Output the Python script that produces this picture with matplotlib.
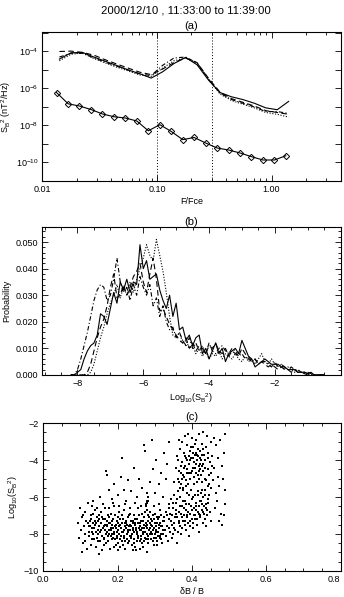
import numpy as np
import matplotlib
matplotlib.use('Agg')
import matplotlib.pyplot as plt
from matplotlib.ticker import FixedLocator, MultipleLocator, NullFormatter

plt.rcParams['font.family'] = ['Liberation Sans', 'DejaVu Sans']
plt.rcParams['mathtext.fontset'] = 'custom'
plt.rcParams['mathtext.rm'] = 'Liberation Sans'
plt.rcParams['mathtext.it'] = 'Liberation Sans'

# ---- panel (a): spectra vs F/Fce (log10 of power) ----
freq_upper = [0.0141, 0.0178, 0.0224, 0.0282, 0.0355, 0.0447, 0.0562, 0.0708, 0.0891, 0.112,
              0.141, 0.178, 0.224, 0.282, 0.355, 0.447, 0.562, 0.708, 0.891, 1.12, 1.41]
spec_solid = [-4.41, -4.07, -4.05, -4.30, -4.53, -4.76, -5.00, -5.20, -5.44, -5.10,
              -4.65, -4.32, -4.72, -5.55, -6.22, -6.45, -6.60, -6.80, -7.05, -7.15, -6.70]
spec_dashed = [-4.00, -3.98, -4.05, -4.20, -4.45, -4.68, -4.90, -5.12, -5.25, -4.95,
               -4.60, -4.35, -4.60, -5.45, -6.20, -6.55, -6.75, -6.95, -7.20, -7.30, -7.40]
spec_dashdot = [-4.30, -4.10, -4.10, -4.35, -4.58, -4.80, -5.00, -5.22, -5.30, -4.75,
                -4.35, -4.30, -4.62, -5.50, -6.25, -6.60, -6.80, -7.00, -7.25, -7.25, -7.35]
spec_dotted = [-4.50, -4.15, -4.08, -4.38, -4.62, -4.85, -5.05, -5.27, -5.35, -4.90,
               -4.50, -4.35, -4.65, -5.50, -6.30, -6.65, -6.85, -7.05, -7.30, -7.40, -7.55]
freq_noise = [0.0133, 0.0168, 0.0211, 0.0266, 0.0335, 0.0422, 0.0531, 0.0668, 0.0841, 0.106,
              0.133, 0.168, 0.211, 0.266, 0.335, 0.422, 0.531, 0.668, 0.841, 1.06, 1.33]
spec_noise = [-6.22, -6.83, -6.95, -7.14, -7.38, -7.53, -7.60, -7.76, -8.29, -7.96,
              -8.32, -8.77, -8.65, -8.95, -9.22, -9.33, -9.49, -9.69, -9.87, -9.87, -9.64]
band_edges = [0.1, 0.3]

# ---- panel (b): probability of log10(S_B^2) ----
logs_bins = [round(-8.2 + 0.1 * i, 1) for i in range(78)]
prob_solid = [0, 0, 0.001, 0.002, 0.006, 0.009, 0.011, 0.012, 0.015, 0.023,
              0.022, 0.019, 0.025, 0.031, 0.027, 0.035, 0.032, 0.036, 0.031, 0.035,
              0.034, 0.049, 0.040, 0.043, 0.036, 0.037, 0.038, 0.032, 0.028, 0.025,
              0.030, 0.022, 0.027, 0.017, 0.018, 0.013, 0.015, 0.011, 0.014, 0.015,
              0.008, 0.010, 0.006, 0.009, 0.012, 0.008, 0.010, 0.005, 0.008, 0.009,
              0.010, 0.008, 0.013, 0.010, 0.007, 0.006, 0.003, 0.004, 0.005, 0.006,
              0.005, 0.004, 0.004, 0.004, 0.003, 0.003, 0.002, 0.002, 0.002, 0.001,
              0.001, 0.001, 0.0005, 0.001, 0, 0, 0, 0]
prob_dashed = [0, 0, 0, 0, 0, 0.001, 0.004, 0.009, 0.014, 0.018,
               0.021, 0.026, 0.033, 0.038, 0.029, 0.030, 0.034, 0.030, 0.033, 0.037,
               0.039, 0.042, 0.035, 0.031, 0.038, 0.044, 0.036, 0.024, 0.025, 0.022,
               0.019, 0.017, 0.015, 0.013, 0.012, 0.014, 0.010, 0.012, 0.009, 0.011,
               0.010, 0.008, 0.011, 0.010, 0.012, 0.009, 0.008, 0.010, 0.007, 0.009,
               0.008, 0.007, 0.010, 0.008, 0.006, 0.005, 0.006, 0.004, 0.005, 0.004,
               0.003, 0.004, 0.003, 0.002, 0.003, 0.002, 0.002, 0.001, 0.002, 0.001,
               0.001, 0.0005, 0, 0, 0, 0, 0, 0]
prob_dashdot = [0, 0, 0.002, 0.006, 0.011, 0.016, 0.022, 0.028, 0.032, 0.034,
                0.033, 0.028, 0.030, 0.036, 0.044, 0.035, 0.031, 0.033, 0.028, 0.034,
                0.030, 0.037, 0.033, 0.030, 0.034, 0.026, 0.029, 0.022, 0.026, 0.020,
                0.017, 0.018, 0.014, 0.016, 0.013, 0.011, 0.014, 0.010, 0.012, 0.009,
                0.011, 0.008, 0.012, 0.009, 0.008, 0.010, 0.011, 0.009, 0.008, 0.010,
                0.009, 0.007, 0.008, 0.006, 0.007, 0.005, 0.006, 0.004, 0.005, 0.005,
                0.004, 0.003, 0.005, 0.003, 0.004, 0.003, 0.002, 0.003, 0.002, 0.002,
                0.001, 0.001, 0.001, 0.0005, 0, 0, 0, 0]
prob_dotted = [0, 0, 0, 0, 0, 0, 0.001, 0.004, 0.009, 0.014,
               0.018, 0.023, 0.027, 0.030, 0.034, 0.029, 0.033, 0.030, 0.035, 0.031,
               0.036, 0.040, 0.044, 0.049, 0.045, 0.043, 0.051, 0.045, 0.039, 0.031,
               0.022, 0.015, 0.014, 0.016, 0.012, 0.013, 0.010, 0.011, 0.008, 0.010,
               0.007, 0.009, 0.006, 0.008, 0.007, 0.009, 0.006, 0.008, 0.007, 0.006,
               0.008, 0.006, 0.005, 0.007, 0.005, 0.006, 0.004, 0.006, 0.008, 0.005,
               0.004, 0.006, 0.004, 0.003, 0.004, 0.002, 0.003, 0.002, 0.001, 0.002,
               0.001, 0.001, 0.0005, 0, 0, 0, 0, 0]

# ---- panel (c): scatter of dB/B vs log10(S_B^2), points read region by region ----
low_cloud = [
    (0.121, -7.4), (0.124, -8.1), (0.127, -7.0), (0.129, -8.6), (0.132, -7.7), (0.134, -6.9), (0.136, -8.3),
    (0.138, -7.3), (0.141, -7.9), (0.143, -8.7), (0.145, -7.1), (0.147, -8.0), (0.149, -7.6), (0.152, -8.4),
    (0.154, -6.8), (0.156, -7.8), (0.158, -8.9), (0.161, -7.2), (0.163, -8.2), (0.165, -7.5), (0.167, -6.6),
    (0.169, -8.5), (0.171, -7.9), (0.173, -7.0), (0.175, -8.1), (0.177, -7.4), (0.179, -8.8), (0.181, -6.9),
    (0.183, -7.7), (0.185, -8.3), (0.187, -7.2), (0.189, -8.0), (0.191, -6.5), (0.193, -7.6), (0.195, -8.6),
    (0.197, -7.3), (0.199, -8.2), (0.201, -7.8), (0.203, -6.8), (0.205, -8.7), (0.207, -7.5), (0.209, -8.1),
    (0.211, -7.0), (0.213, -8.4), (0.215, -7.9), (0.217, -6.7), (0.219, -7.4), (0.221, -8.8), (0.223, -7.7),
    (0.225, -8.0), (0.227, -7.1), (0.229, -8.5), (0.231, -7.6), (0.233, -6.9), (0.235, -8.2), (0.237, -7.3),
    (0.239, -8.6), (0.241, -7.8), (0.243, -7.0), (0.245, -8.3), (0.247, -7.5), (0.249, -8.9), (0.251, -7.2),
    (0.253, -8.0), (0.255, -6.6), (0.257, -7.7), (0.259, -8.4), (0.261, -7.4), (0.263, -8.1), (0.265, -6.9),
    (0.267, -7.9), (0.269, -8.7), (0.271, -7.1), (0.273, -8.2), (0.275, -7.6), (0.277, -6.4), (0.279, -8.0),
    (0.281, -7.3), (0.283, -8.5), (0.285, -7.8), (0.287, -6.8), (0.289, -8.3), (0.291, -7.5), (0.293, -8.0),
    (0.295, -7.0), (0.297, -8.6), (0.299, -7.7), (0.301, -6.9), (0.303, -8.2), (0.305, -7.4), (0.307, -8.4),
    (0.309, -7.9), (0.311, -7.1), (0.313, -8.1), (0.315, -6.7), (0.317, -7.6), (0.319, -8.5), (0.321, -7.3),
    (0.323, -8.0),
    (0.122, -7.9), (0.126, -7.6), (0.131, -8.3), (0.135, -7.4), (0.139, -6.7), (0.144, -8.2), (0.148, -7.3),
    (0.153, -7.9), (0.157, -7.1), (0.162, -8.6), (0.166, -7.8), (0.170, -7.3), (0.174, -8.4), (0.178, -7.1),
    (0.182, -8.1), (0.186, -7.5), (0.190, -8.7), (0.194, -7.0), (0.198, -7.9), (0.202, -8.5), (0.206, -7.2),
    (0.210, -7.7), (0.214, -8.6), (0.218, -8.1), (0.222, -7.3), (0.226, -8.3), (0.230, -7.0), (0.234, -7.8),
    (0.238, -8.0), (0.242, -7.4), (0.246, -8.7), (0.250, -7.7), (0.254, -8.2), (0.258, -7.0), (0.262, -7.8),
    (0.266, -8.5), (0.270, -7.5), (0.274, -6.8), (0.278, -7.7), (0.282, -8.1), (0.286, -7.4), (0.290, -7.9),
    (0.294, -8.4), (0.298, -7.2), (0.302, -7.9), (0.306, -8.6), (0.310, -7.5), (0.314, -8.2), (0.318, -7.0),
    (0.322, -7.8),
    (0.125, -7.3), (0.133, -8.0), (0.140, -7.5), (0.146, -7.8), (0.151, -7.2), (0.159, -8.1), (0.164, -7.6),
    (0.168, -8.0), (0.172, -7.6), (0.176, -7.8), (0.180, -7.4), (0.184, -8.0), (0.188, -7.7), (0.192, -8.3),
    (0.196, -7.7), (0.200, -7.4), (0.204, -8.0), (0.208, -7.7), (0.212, -7.4), (0.216, -8.2), (0.220, -7.6),
    (0.224, -7.5), (0.228, -7.8), (0.232, -8.1), (0.236, -7.6), (0.240, -7.3), (0.244, -7.9), (0.248, -7.4),
    (0.252, -7.9), (0.256, -8.1), (0.260, -7.6), (0.264, -7.3), (0.268, -8.0), (0.272, -7.7), (0.276, -8.3),
    (0.280, -7.5), (0.284, -7.1), (0.288, -7.7), (0.292, -7.3), (0.296, -7.8), (0.300, -8.0), (0.304, -7.6),
    (0.308, -7.2), (0.312, -7.7), (0.316, -8.0),
    (0.123, -7.6), (0.128, -7.2), (0.130, -7.9), (0.137, -7.7), (0.142, -7.4), (0.146, -8.4), (0.150, -7.0),
    (0.155, -7.4), (0.160, -7.7), (0.164, -8.3), (0.167, -7.2), (0.171, -7.5), (0.174, -7.0), (0.177, -8.0),
    (0.181, -7.8), (0.184, -7.3), (0.188, -8.2), (0.191, -7.9), (0.195, -7.5), (0.198, -8.1), (0.201, -7.1),
    (0.204, -7.6), (0.207, -8.3), (0.211, -7.9), (0.214, -7.2), (0.217, -7.8), (0.220, -8.4), (0.223, -7.4),
    (0.227, -7.9), (0.230, -8.4), (0.233, -7.5), (0.237, -8.1), (0.240, -7.7), (0.243, -8.5), (0.246, -7.2),
    (0.249, -7.8), (0.252, -8.4), (0.256, -7.4), (0.259, -7.8), (0.262, -8.3), (0.265, -7.7), (0.268, -7.3),
    (0.271, -8.4), (0.274, -7.9), (0.277, -7.4), (0.281, -8.3), (0.284, -7.8), (0.287, -8.0), (0.290, -7.2),
    (0.293, -7.6), (0.297, -8.2), (0.300, -7.4), (0.303, -7.8), (0.306, -7.1), (0.309, -8.1), (0.313, -7.4),
    (0.317, -8.3), (0.320, -7.6), (0.324, -7.1), (0.327, -7.8),
    (0.130, -6.5), (0.144, -6.6), (0.160, -6.4), (0.176, -6.6), (0.188, -6.3), (0.204, -6.5), (0.219, -6.4),
    (0.232, -6.6), (0.247, -6.3), (0.262, -6.5), (0.283, -6.2), (0.297, -6.5), (0.311, -6.4),
]
edge_points = [
    (0.092, -7.4), (0.096, -8.2), (0.098, -6.6), (0.101, -7.8), (0.103, -9.0), (0.105, -7.1), (0.107, -8.5),
    (0.109, -7.6), (0.111, -6.8), (0.113, -8.0), (0.115, -7.3), (0.117, -8.8), (0.119, -6.3), (0.112, -8.4),
    (0.106, -7.0), (0.150, -9.1), (0.200, -8.9), (0.240, -8.9), (0.280, -9.0), (0.260, -8.8),
    (0.462, -6.6), (0.464, -5.8), (0.466, -3.2), (0.468, -6.2), (0.470, -4.9), (0.472, -7.3), (0.474, -5.4),
    (0.476, -2.9), (0.478, -6.9), (0.480, -4.3), (0.482, -7.5), (0.484, -5.0), (0.486, -3.6), (0.488, -6.4),
    (0.490, -2.6), (0.489, -5.6), (0.487, -7.0), (0.471, -3.9),
]
sparse_upper = [
    (0.135, -6.2), (0.152, -6.0), (0.168, -4.6), (0.172, -4.8), (0.178, -5.6), (0.185, -6.1), (0.190, -5.3),
    (0.200, -5.9), (0.208, -4.9), (0.212, -3.9), (0.216, -5.6), (0.222, -6.2), (0.228, -5.1), (0.236, -5.7),
    (0.245, -4.4), (0.252, -6.0), (0.258, -5.0), (0.265, -5.5), (0.272, -3.2), (0.274, -3.5), (0.280, -6.2),
    (0.286, -5.2), (0.292, -2.9), (0.296, -4.5), (0.300, -5.8), (0.304, -4.0), (0.310, -5.3), (0.318, -4.7),
    (0.322, -6.0), (0.326, -3.6), (0.330, -5.0), (0.334, -4.2), (0.338, -3.0), (0.281, -6.0), (0.276, -6.5),
    (0.279, -6.3), (0.280, -6.7), (0.281, -7.0), (0.278, -5.8),
]
high_cloud_low = [
    (0.326, -7.3), (0.329, -8.1), (0.331, -6.8), (0.333, -7.6), (0.335, -8.4), (0.337, -6.4), (0.339, -7.2),
    (0.341, -7.9), (0.343, -6.1), (0.345, -7.0), (0.347, -8.2), (0.349, -6.6), (0.351, -7.4), (0.353, -5.9),
    (0.355, -7.8), (0.357, -6.3), (0.359, -8.5), (0.361, -7.1), (0.363, -5.7), (0.365, -6.8), (0.367, -7.6),
    (0.369, -6.0), (0.371, -8.0), (0.373, -6.5), (0.375, -7.3), (0.377, -5.5), (0.379, -7.0), (0.381, -6.2),
    (0.383, -7.8), (0.385, -6.7), (0.387, -5.8), (0.389, -7.4), (0.391, -6.4), (0.393, -8.1), (0.395, -6.9),
    (0.397, -5.6), (0.399, -7.2), (0.401, -6.1), (0.403, -7.7), (0.405, -6.6), (0.407, -5.9), (0.409, -7.0),
    (0.411, -6.3), (0.413, -7.5), (0.415, -5.7), (0.417, -6.8), (0.419, -7.9), (0.421, -6.2), (0.423, -7.1),
    (0.425, -5.8), (0.427, -6.7), (0.429, -7.4), (0.431, -6.0), (0.433, -6.9), (0.435, -5.6), (0.437, -7.6),
    (0.439, -6.4), (0.441, -7.0), (0.443, -6.1), (0.445, -5.9), (0.448, -6.8), (0.452, -7.3),
    (0.334, -7.0), (0.338, -7.7), (0.342, -6.9), (0.346, -7.5), (0.350, -8.0), (0.354, -7.1), (0.358, -6.7),
    (0.362, -7.9), (0.366, -7.3), (0.370, -6.9), (0.374, -7.7), (0.378, -6.6), (0.382, -7.3), (0.386, -7.0),
    (0.390, -6.8), (0.394, -7.6), (0.398, -6.5), (0.402, -7.4), (0.406, -7.0), (0.410, -6.7), (0.414, -7.2),
    (0.418, -6.5), (0.422, -7.0), (0.426, -6.4), (0.430, -6.8), (0.434, -7.2), (0.438, -6.6), (0.442, -6.3),
    (0.338, -6.6), (0.344, -7.3), (0.348, -6.3), (0.352, -7.7), (0.356, -6.9), (0.360, -6.1), (0.364, -7.4),
    (0.368, -6.5), (0.372, -7.1), (0.376, -6.2), (0.380, -7.5), (0.384, -6.4), (0.388, -7.1), (0.392, -5.9),
    (0.396, -7.3), (0.400, -6.7), (0.404, -6.0), (0.408, -7.2), (0.412, -6.5), (0.416, -5.9), (0.420, -6.9),
    (0.424, -6.2), (0.428, -5.6), (0.432, -6.5), (0.436, -5.9), (0.440, -6.7), (0.444, -5.4),
]
high_cloud_top = [
    (0.352, -5.2), (0.356, -4.4), (0.360, -3.8), (0.362, -5.0), (0.364, -2.9), (0.366, -4.6), (0.368, -3.4),
    (0.370, -5.3), (0.372, -4.1), (0.374, -3.0), (0.376, -4.8), (0.378, -3.6), (0.380, -2.7), (0.382, -4.3),
    (0.384, -5.1), (0.386, -3.2), (0.388, -4.0), (0.390, -2.6), (0.392, -4.7), (0.394, -3.5), (0.396, -5.0),
    (0.398, -3.9), (0.400, -2.8), (0.402, -4.4), (0.404, -3.3), (0.406, -4.9), (0.408, -3.7), (0.410, -2.9),
    (0.412, -4.2), (0.414, -5.2), (0.416, -3.4), (0.418, -4.6), (0.420, -2.6), (0.422, -3.9), (0.424, -4.8),
    (0.426, -3.1), (0.428, -4.3), (0.430, -2.5), (0.432, -3.7), (0.434, -5.0), (0.436, -4.0), (0.438, -3.3),
    (0.440, -2.7), (0.442, -4.5), (0.444, -3.6), (0.446, -5.3), (0.448, -4.1), (0.450, -3.0), (0.452, -4.7),
    (0.454, -3.8), (0.456, -5.1), (0.458, -2.8), (0.460, -4.4),
    (0.387, -4.5), (0.391, -3.8), (0.393, -4.2), (0.397, -3.3), (0.401, -4.6), (0.403, -3.9), (0.405, -4.1),
    (0.407, -3.1), (0.409, -4.4), (0.411, -3.6), (0.413, -4.0), (0.415, -4.8), (0.417, -3.8), (0.419, -4.3),
    (0.421, -3.5), (0.423, -4.5), (0.425, -4.0), (0.427, -3.7), (0.429, -4.6), (0.431, -4.2), (0.363, -4.0),
    (0.367, -5.5), (0.371, -4.7), (0.375, -5.6), (0.379, -4.9), (0.383, -5.4), (0.385, -3.9),
    (0.366, -5.2), (0.370, -4.3), (0.374, -5.0), (0.378, -4.4), (0.382, -3.8), (0.386, -4.7), (0.390, -5.3),
    (0.394, -4.0), (0.398, -4.7), (0.402, -3.6), (0.406, -5.3), (0.410, -4.7), (0.414, -3.7), (0.418, -5.0),
    (0.422, -4.2), (0.426, -5.2), (0.430, -3.4), (0.434, -4.4), (0.438, -5.1), (0.442, -3.9), (0.446, -4.8),
    (0.450, -5.5), (0.455, -4.3),
]
ratio_ticks = [0.0, 0.2, 0.4, 0.6, 0.8]

LW = 0.8
FS_TICK = 6.5
FS_LAB = 6.5

fig = plt.figure(figsize=(3.44, 5.97), dpi=100)


def idl_axes(ax):
    ax.tick_params(which='both', direction='in', top=True, right=True, labelsize=FS_TICK,
                   width=0.6, pad=3)
    ax.tick_params(which='major', length=4)
    ax.tick_params(which='minor', length=2)
    for s in ax.spines.values():
        s.set_linewidth(0.8)


# panel a
ax1 = fig.add_axes([0.123, 0.697, 0.867, 0.249])
ax1.plot(freq_upper, 10.0 ** np.array(spec_solid), color='black', lw=LW, ls='-')
ax1.plot(freq_upper, 10.0 ** np.array(spec_dashed), color='black', lw=LW, ls=(0, (5, 3)))
ax1.plot(freq_upper, 10.0 ** np.array(spec_dashdot), color='black', lw=LW, ls=(0, (4, 2, 1, 2)))
ax1.plot(freq_upper, 10.0 ** np.array(spec_dotted), color='black', lw=LW, ls=(0, (1, 1.5)))
ax1.plot(freq_noise, 10.0 ** np.array(spec_noise), color='black', lw=LW, marker='D',
         ms=3.2, mfc='none', mew=0.7)
for f in band_edges:
    ax1.axvline(f, color='black', lw=0.7, ls=(0, (1, 2)))
ax1.set_xscale('log')
ax1.set_yscale('log')
ax1.set_xlim(0.01, 4.0)
ax1.set_ylim(1e-11, 1.1e-3)
ax1.xaxis.set_major_locator(FixedLocator([0.01, 0.1, 1.0]))
ax1.set_xticklabels(['0.01', '0.10', '1.00'])
ax1.yaxis.set_major_locator(FixedLocator([10.0 ** k for k in range(-11, -2)]))
ax1.set_yticklabels(['' if k % 2 else r'10$^{%d}$' % k for k in range(-11, -2)])
ax1.yaxis.set_minor_locator(FixedLocator([]))
ax1.xaxis.set_minor_formatter(NullFormatter())
idl_axes(ax1)
ax1.set_xlabel('F/Fce', fontsize=FS_LAB, labelpad=2)
ax1.set_ylabel(r'S$_B$$^2$ (nT$^2$/Hz)', fontsize=FS_LAB, labelpad=2)
ax1.set_title('(a)', fontsize=8, pad=2)
fig.text(0.54, 0.983, '2000/12/10 , 11:33:00 to 11:39:00', ha='center', va='center', fontsize=8.2)

# panel b
ax2 = fig.add_axes([0.123, 0.372, 0.867, 0.247])
ax2.plot(logs_bins, prob_solid, color='black', lw=LW, ls='-')
ax2.plot(logs_bins, prob_dashed, color='black', lw=LW, ls=(0, (5, 3)))
ax2.plot(logs_bins, prob_dashdot, color='black', lw=LW, ls=(0, (4, 2, 1, 2)))
ax2.plot(logs_bins, prob_dotted, color='black', lw=LW, ls=(0, (1, 1.5)))
ax2.set_xlim(-9.07, 0.0)
ax2.set_ylim(0.0, 0.0555)
ax2.xaxis.set_major_locator(FixedLocator([-8, -6, -4, -2]))
ax2.xaxis.set_minor_locator(MultipleLocator(0.5))
ax2.yaxis.set_major_locator(MultipleLocator(0.01))
ax2.yaxis.set_minor_locator(MultipleLocator(0.002))
ax2.yaxis.set_major_formatter(plt.FormatStrFormatter('%.3f'))
idl_axes(ax2)
ax2.set_xlabel(r'Log$_{10}$(S$_B$$^2$)', fontsize=FS_LAB, labelpad=2)
ax2.set_ylabel('Probability', fontsize=FS_LAB, labelpad=3)
ax2.set_title('(b)', fontsize=8, pad=2)

# panel c
pts = np.array(low_cloud + edge_points + sparse_upper + high_cloud_low + high_cloud_top)
ax3 = fig.add_axes([0.126, 0.044, 0.864, 0.247])
ax3.plot(pts[:, 0], pts[:, 1], ls='none', marker='s', ms=2.0, mew=0, color='black')
ax3.set_xlim(0.0, 0.8)
ax3.set_ylim(-10, -2)
ax3.set_xticks(ratio_ticks, ['%.1f' % t for t in ratio_ticks])
ax3.xaxis.set_minor_locator(MultipleLocator(0.05))
ax3.yaxis.set_major_locator(MultipleLocator(2))
ax3.yaxis.set_minor_locator(MultipleLocator(0.5))
idl_axes(ax3)
# last label sits on the right edge: keep it inside the figure
ax3.get_xticklabels()[-1].set_horizontalalignment('right')
ax3.set_xlabel(r'$\delta$B / B', fontsize=FS_LAB, labelpad=0.5)
ax3.set_ylabel(r'Log$_{10}$(S$_B$$^2$)', fontsize=FS_LAB, labelpad=3)
ax3.set_title('(c)', fontsize=8, pad=2)

fig.savefig('out.png', dpi=100)
